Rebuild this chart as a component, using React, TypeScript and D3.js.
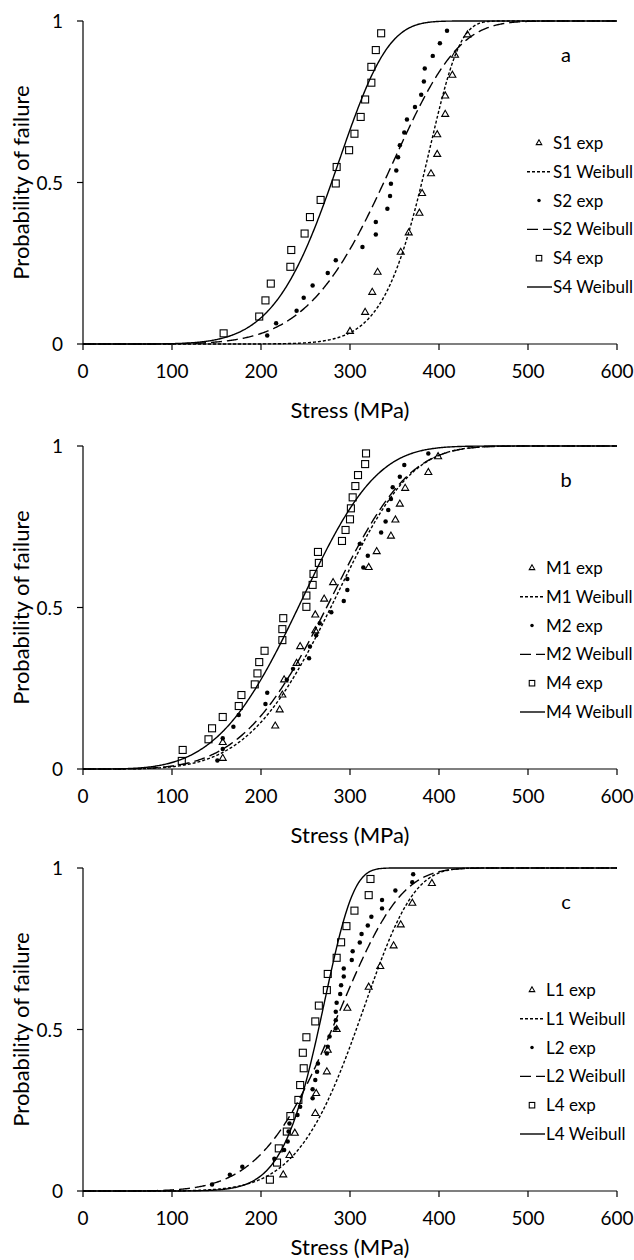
import React from "react";
import * as d3 from "d3";

// ---------- data ----------
const X_TICKS = [0, 100, 200, 300, 400, 500, 600];
const Y_TICKS = [0, 0.5, 1];
const Y_TICK_LABELS = ["0", "0.5", "1"];
const PANEL_LETTERS = ["a", "b", "c"];

// Panel a
const S1_EXP: [number, number][] = [
  [300, 0.039], [317, 0.098], [325, 0.16], [331, 0.222], [357, 0.284], [366, 0.344],
  [378, 0.405], [381, 0.466], [391, 0.527], [398, 0.587], [398, 0.648], [407, 0.711],
  [407, 0.768], [415, 0.832], [418, 0.894], [432, 0.957],
];
const S2_EXP: [number, number][] = [
  [207, 0.026], [217, 0.064], [240, 0.103], [248, 0.143], [258, 0.181], [275, 0.22],
  [284, 0.259], [314, 0.3], [329, 0.339], [329, 0.378], [342, 0.419], [345, 0.458],
  [346, 0.496], [352, 0.537], [354, 0.578], [356, 0.615], [361, 0.655], [364, 0.695],
  [373, 0.734], [380, 0.772], [383, 0.813], [384, 0.853], [393, 0.892], [401, 0.931],
  [409, 0.97],
];
const S4_EXP: [number, number][] = [
  [158, 0.033], [198, 0.085], [205, 0.135], [211, 0.187], [233, 0.239], [234, 0.291],
  [249, 0.342], [255, 0.393], [267, 0.446], [284, 0.497], [285, 0.548], [299, 0.6],
  [305, 0.651], [312, 0.703], [317, 0.757], [324, 0.809], [324, 0.858], [329, 0.91],
  [335, 0.962],
];
// Weibull fits: [modulus m, characteristic strength s0 (MPa)]
const S1_WEIBULL: [number, number] = [12.5, 392];
const S2_WEIBULL: [number, number] = [5.8, 360];
const S4_WEIBULL: [number, number] = [6.3, 296];

// Panel b
const M1_EXP: [number, number][] = [
  [157, 0.033], [157, 0.082], [216, 0.133], [221, 0.183], [224, 0.229], [226, 0.276],
  [240, 0.327], [244, 0.379], [261, 0.428], [261, 0.477], [271, 0.526], [281, 0.577],
  [321, 0.624], [330, 0.673], [346, 0.721], [351, 0.771], [356, 0.82], [362, 0.869],
  [388, 0.918], [399, 0.967],
];
const M2_EXP: [number, number][] = [
  [151, 0.026], [157, 0.062], [157, 0.095], [169, 0.131], [175, 0.167], [205, 0.201],
  [207, 0.236], [229, 0.276], [236, 0.31], [254, 0.343], [255, 0.379], [262, 0.414],
  [266, 0.451], [279, 0.485], [293, 0.52], [297, 0.554], [297, 0.588], [315, 0.624],
  [320, 0.66], [311, 0.697], [335, 0.732], [340, 0.766], [343, 0.802], [346, 0.836],
  [348, 0.872], [356, 0.905], [361, 0.941], [388, 0.977],
];
const M4_EXP: [number, number][] = [
  [111, 0.025], [112, 0.059], [141, 0.092], [145, 0.126], [157, 0.161], [175, 0.195],
  [178, 0.229], [193, 0.262], [196, 0.296], [198, 0.331], [204, 0.366], [224, 0.399],
  [224, 0.433], [225, 0.467], [251, 0.502], [251, 0.537], [258, 0.57], [259, 0.604],
  [265, 0.638], [264, 0.672], [291, 0.706], [295, 0.74], [300, 0.773], [301, 0.807],
  [303, 0.841], [306, 0.876], [309, 0.91], [317, 0.944], [318, 0.977],
];
const M1_WEIBULL: [number, number] = [4.5, 302];
const M2_WEIBULL: [number, number] = [4.3, 298];
const M4_WEIBULL: [number, number] = [4, 265];

// Panel c
const L1_EXP: [number, number][] = [
  [225, 0.05], [232, 0.11], [238, 0.179], [261, 0.24], [262, 0.302], [274, 0.369],
  [275, 0.436], [285, 0.5], [297, 0.566], [321, 0.631], [334, 0.695], [349, 0.759],
  [357, 0.824], [370, 0.891], [392, 0.952],
];
const L2_EXP: [number, number][] = [
  [145, 0.02], [165, 0.05], [179, 0.075], [215, 0.1], [226, 0.127], [230, 0.153],
  [231, 0.184], [232, 0.209], [241, 0.235], [244, 0.261], [258, 0.287], [258, 0.315],
  [261, 0.344], [263, 0.369], [264, 0.395], [274, 0.426], [275, 0.447], [277, 0.478],
  [284, 0.503], [284, 0.529], [284, 0.555], [285, 0.583], [289, 0.61], [290, 0.637],
  [293, 0.664], [293, 0.689], [302, 0.715], [303, 0.742], [311, 0.769], [313, 0.796],
  [320, 0.822], [324, 0.849], [336, 0.875], [336, 0.901], [351, 0.93], [370, 0.956],
  [371, 0.981],
];
const L4_EXP: [number, number][] = [
  [210, 0.035], [218, 0.088], [220, 0.132], [229, 0.184], [233, 0.232], [242, 0.282],
  [244, 0.328], [248, 0.38], [247, 0.428], [251, 0.476], [261, 0.525], [265, 0.574],
  [274, 0.622], [275, 0.672], [285, 0.722], [290, 0.77], [296, 0.82], [305, 0.868],
  [321, 0.916], [323, 0.966],
];
const L1_WEIBULL: [number, number] = [6.8, 324];
const L2_WEIBULL: [number, number] = [5.2, 300];
const L4_WEIBULL: [number, number] = [9.5, 275];

const PANELS = [
  { names: ["S1", "S2", "S4"], exp: [S1_EXP, S2_EXP, S4_EXP], fits: [S1_WEIBULL, S2_WEIBULL, S4_WEIBULL] },
  { names: ["M1", "M2", "M4"], exp: [M1_EXP, M2_EXP, M4_EXP], fits: [M1_WEIBULL, M2_WEIBULL, M4_WEIBULL] },
  { names: ["L1", "L2", "L4"], exp: [L1_EXP, L2_EXP, L4_EXP], fits: [L1_WEIBULL, L2_WEIBULL, L4_WEIBULL] },
];

// ---------- layout / style ----------
const WIDTH = 634;
const HEIGHT = 1260;
const X0 = 83;
const X1 = 617;
const PANEL_TOPS = [21, 446, 868];
const PANEL_H = 323;
const FONT = "Lato, 'Open Sans', sans-serif";
const DASHES = ["3,2", "11,5", null];
const MARKERS = ["triangle", "dot", "square"];

function Marker({ kind, x, y, s }: { kind: string; x: number; y: number; s: number }) {
  if (kind === "dot") return <circle cx={x} cy={y} r={s * 0.32} fill="#000" />;
  if (kind === "square")
    return <rect x={x - s / 2} y={y - s / 2} width={s} height={s} fill="none" stroke="#000" strokeWidth={1.1} />;
  const h = (s * Math.sqrt(3)) / 2;
  const pts = `${x},${y - (2 * h) / 3} ${x - s / 2},${y + h / 3} ${x + s / 2},${y + h / 3}`;
  return <polygon points={pts} fill="none" stroke="#000" strokeWidth={1.1} />;
}

function Panel({ idx }: { idx: number }) {
  const top = PANEL_TOPS[idx];
  const bottom = top + PANEL_H;
  const p = PANELS[idx];
  const x = d3.scaleLinear().domain([0, 600]).range([X0, X1]);
  const y = d3.scaleLinear().domain([0, 1]).range([bottom, top]);
  const grid = d3.range(0, 600.5, 1);
  const paths = p.fits.map(([m, s0]) =>
    d3
      .line<number>()
      .x((s) => x(s))
      .y((s) => y(1 - Math.exp(-Math.pow(s / s0, m))))(grid) as string
  );
  const legX = idx === 0 ? 539 : 532;
  const legTextX = idx === 0 ? 553 : 546;
  const legLineX0 = idx === 0 ? 527 : 520;
  const legTop = top + 122;
  const legStep = 28.8;
  const titleY = Math.min(bottom + 74, HEIGHT - 5);
  return (
    <g>
      {paths.map((d, i) => (
        <path key={"f" + i} d={d} fill="none" stroke="#000" strokeWidth={1.4} strokeDasharray={DASHES[i] ?? undefined} />
      ))}
      {p.exp.map((arr, i) =>
        arr.map(([s, pr], j) => <Marker key={`m${i}-${j}`} kind={MARKERS[i]} x={x(s)} y={y(pr)} s={7} />)
      )}
      <line x1={X0} x2={X1} y1={bottom} y2={bottom} stroke="#000" strokeWidth={1.2} />
      <line x1={X0} x2={X0} y1={top} y2={bottom} stroke="#000" strokeWidth={1.2} />
      {X_TICKS.map((t) => (
        <g key={"xt" + t}>
          <line x1={x(t)} x2={x(t)} y1={bottom} y2={bottom + 6} stroke="#000" strokeWidth={1.2} />
          <text x={x(t)} y={bottom + 34} textAnchor="middle" fontSize={19} fontFamily={FONT}>
            {t}
          </text>
        </g>
      ))}
      {Y_TICKS.map((t, i) => (
        <g key={"yt" + t}>
          <line x1={X0 - 6} x2={X0} y1={y(t)} y2={y(t)} stroke="#000" strokeWidth={1.2} />
          <text x={63} y={y(t) + 7} textAnchor="end" fontSize={19} fontFamily={FONT}>
            {Y_TICK_LABELS[i]}
          </text>
        </g>
      ))}
      <text x={350} y={titleY} textAnchor="middle" fontSize={22} fontFamily={FONT}>
        Stress (MPa)
      </text>
      <text
        transform={`translate(29,${(top + bottom) / 2}) rotate(-90)`}
        textAnchor="middle"
        fontSize={22}
        fontFamily={FONT}
      >
        Probability of failure
      </text>
      <text x={566} y={top + 41} textAnchor="middle" fontSize={20} fontFamily={FONT}>
        {PANEL_LETTERS[idx]}
      </text>
      {p.names.map((n, i) => {
        const ye = legTop + legStep * 2 * i;
        const yw = ye + legStep;
        return (
          <g key={"lg" + i}>
            <Marker kind={MARKERS[i]} x={legX} y={ye} s={5.5} />
            <text x={legTextX} y={ye + 6} fontSize={17} fontFamily={FONT}>
              {n} exp
            </text>
            <line
              x1={legLineX0}
              x2={legTextX - 1}
              y1={yw}
              y2={yw}
              stroke="#000"
              strokeWidth={1.4}
              strokeDasharray={DASHES[i] ?? undefined}
            />
            <text x={legTextX} y={yw + 6} fontSize={17} fontFamily={FONT}>
              {n} Weibull
            </text>
          </g>
        );
      })}
    </g>
  );
}

export default function App() {
  return (
    <svg width={WIDTH} height={HEIGHT} style={{ position: "absolute", left: 0, top: 0, background: "#fff" }}>
      <rect width={WIDTH} height={HEIGHT} fill="#fff" />
      {[0, 1, 2].map((i) => (
        <Panel key={i} idx={i} />
      ))}
    </svg>
  );
}
